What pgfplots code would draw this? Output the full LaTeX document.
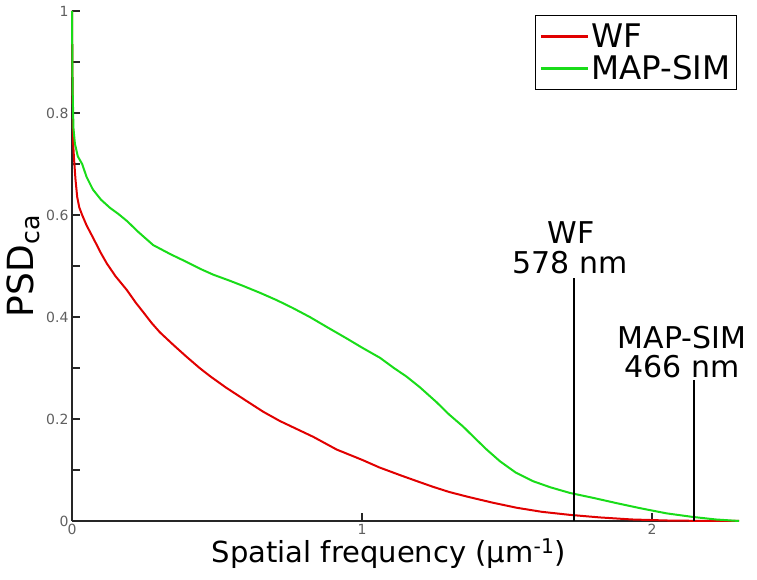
\documentclass[border=0pt]{standalone}
\usepackage{pgfplots}
\pgfplotsset{compat=1.18}
\usepackage{fontspec}
\setmainfont{DejaVu Sans}
\definecolor{wfred}{RGB}{225,0,0}
\definecolor{simgreen}{RGB}{25,220,25}
\definecolor{tickgray}{RGB}{95,95,95}
\pgfplotstableread{
x y
0 1
0.002 0.85
0.004 0.74
0.007 0.71
0.012 0.67
0.018 0.635
0.025 0.615
0.035 0.60
0.05 0.58
0.073 0.555
0.1 0.525
0.12 0.505
0.15 0.48
0.189 0.453
0.22 0.428
0.245 0.410
0.275 0.388
0.303 0.370
0.35 0.345
0.395 0.322
0.44 0.300
0.476 0.284
0.53 0.262
0.6 0.236
0.66 0.214
0.717 0.196
0.78 0.179
0.832 0.165
0.913 0.140
1.0 0.12
1.06 0.105
1.131 0.09
1.19 0.078
1.245 0.067
1.3 0.057
1.361 0.048
1.45 0.036
1.533 0.026
1.62 0.018
1.717 0.012
1.82 0.007
1.93 0.003
2.05 0.001
2.2 0.0
2.30 0.0
}\wfdata
\pgfplotstableread{
x y
0 1
0.002 0.85
0.005 0.77
0.01 0.74
0.02 0.715
0.035 0.70
0.05 0.675
0.072 0.650
0.1 0.630
0.131 0.614
0.16 0.602
0.19 0.588
0.23 0.566
0.28 0.541
0.34 0.523
0.395 0.508
0.44 0.495
0.487 0.483
0.54 0.472
0.59 0.461
0.65 0.447
0.706 0.433
0.76 0.418
0.82 0.40
0.88 0.38
0.947 0.358
1.0 0.34
1.062 0.32
1.11 0.30
1.154 0.283
1.2 0.262
1.257 0.233
1.3 0.209
1.349 0.185
1.39 0.162
1.43 0.140
1.476 0.117
1.53 0.095
1.59 0.078
1.65 0.066
1.717 0.055
1.8 0.045
1.878 0.035
1.96 0.025
2.05 0.015
2.14 0.008
2.22 0.003
2.30 0.0
}\simdata
\begin{document}
\begin{tikzpicture}
\path[use as bounding box] (-72pt,-59pt) rectangle (685pt,521pt);
\begin{axis}[
  at={(0,0)}, anchor=south west,
  scale only axis, width=667pt, height=510pt,
  xmin=0, xmax=2.3, ymin=0, ymax=1,
  axis lines=left,
  axis line style={-, line width=1.4pt, black!85},
  xtick={0,1,2}, ytick={0,0.2,0.4,0.6,0.8,1},
  minor ytick={0.1,0.3,0.5,0.7,0.9},
  yticklabels={0,0.2,0.4,0.6,0.8,1},
  xticklabels={0,1,2},
  tick align=inside,
  major tick length=8pt, minor tick length=8pt,
  tick style={line width=1.2pt, black!85},
  /pgf/number format/assume math mode=true,
  ticklabel style={font=\fontsize{14}{14}\selectfont, text=tickgray},
  xlabel={Spatial frequency (µm\textsuperscript{-1})},
  xlabel style={font=\fontsize{29}{29}\selectfont, at={(axis description cs:0.475,0)}, anchor=north, yshift=-14pt},
  ylabel={PSD\textsubscript{ca}},
  ylabel style={font=\fontsize{36}{36}\selectfont, at={(axis description cs:0,0.5)}, anchor=south, yshift=29pt},
  legend style={at={(rel axis cs:0.997,0.992)}, anchor=north east, draw=black, line width=1.2pt,
     font=\fontsize{32.5}{32.5}\selectfont, inner xsep=4pt, inner ysep=6pt, row sep=3pt, legend cell align=left},
  legend image code/.code={\draw[#1, line width=3pt] (0pt,0pt) -- (47pt,0pt);},
  clip=false,
]
\addplot[wfred, line width=2pt] table {\wfdata};
\addlegendentry{WF}
\addplot[simgreen, line width=2pt] table {\simdata};
\addlegendentry{MAP-SIM}
\addplot[black, line width=1.8pt, forget plot] coordinates {(1.730,0) (1.730,0.476)};
\addplot[black, line width=1.8pt, forget plot] coordinates {(2.146,0) (2.146,0.276)};
\node[anchor=base, font=\fontsize{30}{30}\selectfont, inner sep=0pt] at (axis cs:1.721,0.545) {WF};
\node[anchor=base, font=\fontsize{30}{30}\selectfont, inner sep=0pt] at (axis cs:1.717,0.486) {578 nm};
\node[anchor=base, font=\fontsize{30}{30}\selectfont, inner sep=0pt] at (axis cs:2.103,0.339) {MAP-SIM};
\node[anchor=base, font=\fontsize{30}{30}\selectfont, inner sep=0pt] at (axis cs:2.103,0.282) {466 nm};
\end{axis}
\end{tikzpicture}
\end{document}
